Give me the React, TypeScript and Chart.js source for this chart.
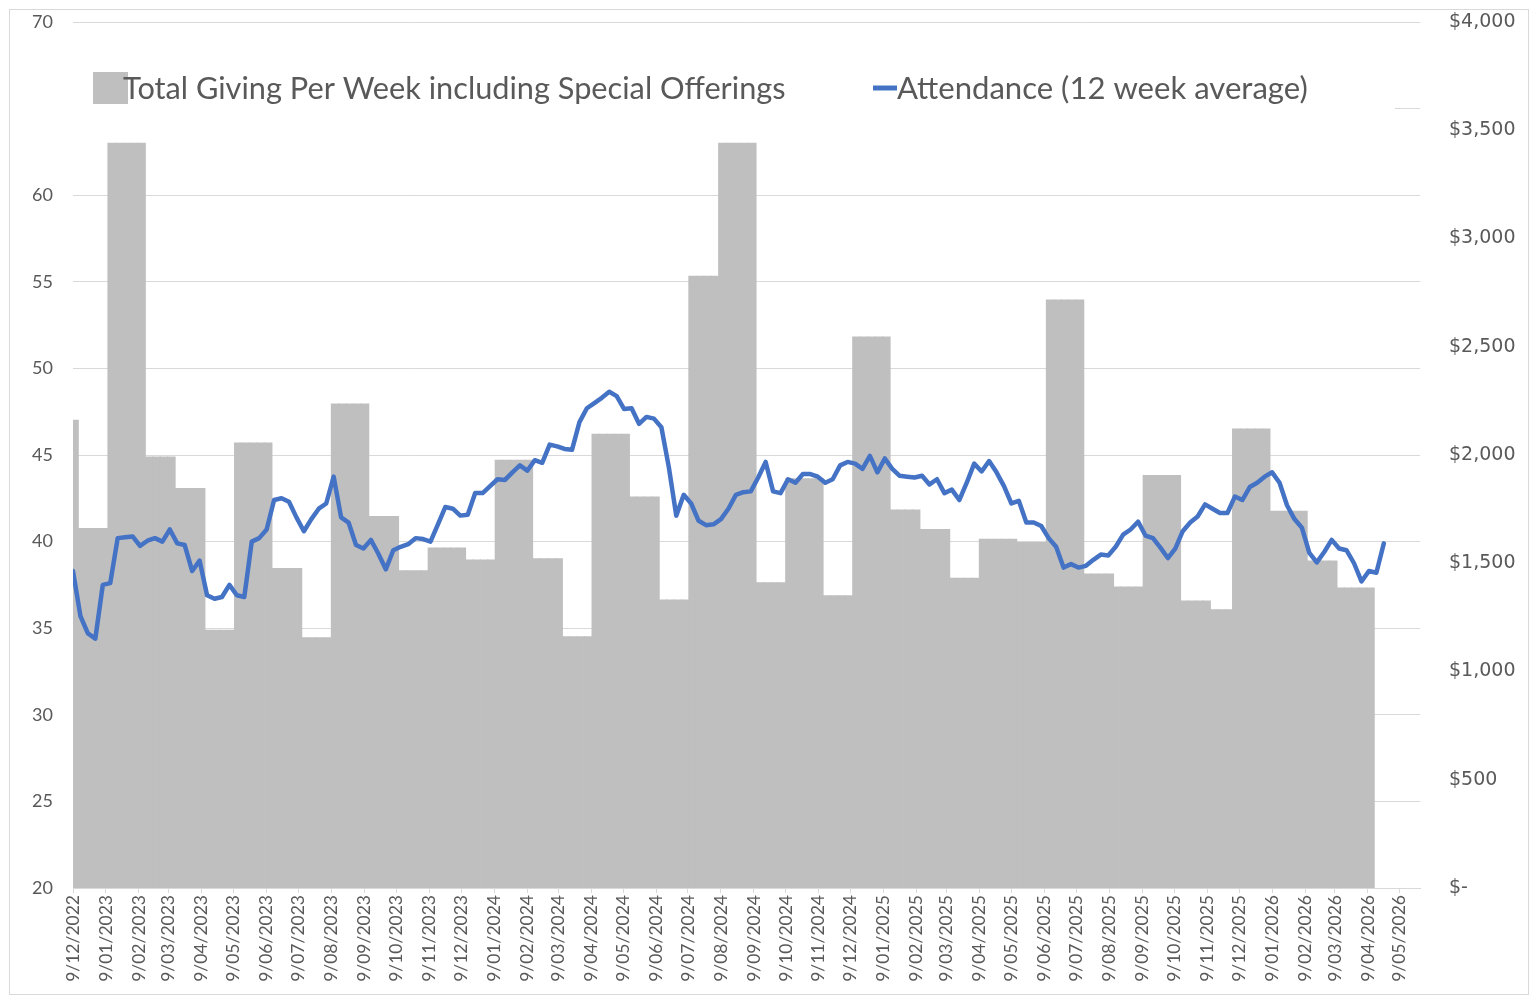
import React, { useEffect, useRef } from 'react';
import { Chart, registerables } from 'chart.js';

Chart.register(...registerables);

// ---- data ----
const tickLabels = [
  '9/12/2022',
  '9/01/2023', '9/02/2023', '9/03/2023', '9/04/2023', '9/05/2023', '9/06/2023',
  '9/07/2023', '9/08/2023', '9/09/2023', '9/10/2023', '9/11/2023', '9/12/2023',
  '9/01/2024', '9/02/2024', '9/03/2024', '9/04/2024', '9/05/2024', '9/06/2024',
  '9/07/2024', '9/08/2024', '9/09/2024', '9/10/2024', '9/11/2024', '9/12/2024',
  '9/01/2025', '9/02/2025', '9/03/2025', '9/04/2025', '9/05/2025', '9/06/2025',
  '9/07/2025', '9/08/2025', '9/09/2025', '9/10/2025', '9/11/2025', '9/12/2025',
  '9/01/2026', '9/02/2026', '9/03/2026', '9/04/2026', '9/05/2026',
];

// Attendance (12 week average), one value per week starting 9/12/2022
const attendance = [
  38.3, 35.7, 34.7, 34.4, 37.5, 37.6, 40.2, 40.25, 40.3, 39.75,
  40.05, 40.2, 40.0, 40.7, 39.9, 39.8, 38.3, 38.9, 36.9, 36.7,
  36.8, 37.5, 36.9, 36.8, 40.0, 40.2, 40.7, 42.4, 42.5, 42.3,
  41.4, 40.6, 41.3, 41.9, 42.2, 43.75, 41.4, 41.1, 39.8, 39.6,
  40.1, 39.3, 38.4, 39.5, 39.7, 39.85, 40.2, 40.15, 40.0, 41.0,
  42.0, 41.9, 41.5, 41.55, 42.8, 42.8, 43.2, 43.6, 43.56, 44.0,
  44.4, 44.1, 44.7, 44.55, 45.6, 45.5, 45.35, 45.3, 46.9, 47.7,
  48.0, 48.3, 48.65, 48.4, 47.65, 47.7, 46.8, 47.2, 47.1, 46.6,
  44.3, 41.5, 42.7, 42.2, 41.2, 40.95, 41.0, 41.3, 41.9, 42.7,
  42.85, 42.9, 43.7, 44.6, 42.9, 42.8, 43.6, 43.4, 43.9, 43.9,
  43.75, 43.4, 43.6, 44.4, 44.6, 44.5, 44.2, 44.95, 44.0, 44.8,
  44.2, 43.8, 43.75, 43.7, 43.8, 43.3, 43.6, 42.8, 43.0, 42.4,
  43.4, 44.5, 44.05, 44.65, 44.0, 43.2, 42.2, 42.35, 41.1, 41.1,
  40.9, 40.2, 39.7, 38.5, 38.7, 38.5, 38.6, 38.95, 39.25, 39.2,
  39.7, 40.4, 40.7, 41.15, 40.35, 40.2, 39.65, 39.05, 39.6, 40.6,
  41.1, 41.45, 42.15, 41.9, 41.65, 41.65, 42.6, 42.4, 43.15, 43.4,
  43.75, 44.0, 43.4, 42.1, 41.3, 40.8, 39.35, 38.8, 39.4, 40.1,
  39.6, 39.5, 38.75, 37.7, 38.3, 38.2, 39.9,
];

// Total giving per week ($), one value per period, and how many weeks each period covers
const givingValues = [
  2160, 1660, 3440, 1990, 1845, 1190, 2055, 1475, 1155, 2235,
  1715, 1465, 1570, 1515, 1975, 1520, 1160, 2095, 1805, 1330,
  2825, 3440, 1410, 1890, 1350, 2545, 1745, 1655, 1430, 1610,
  1595, 2715, 1450, 1390, 1905, 1325, 1285, 2120, 1740, 1510,
  1385,
];
const givingWeeks = [
  1, 4, 5, 4, 4, 4, 5, 4, 4, 5,
  4, 4, 5, 4, 5, 4, 4, 5, 4, 4,
  4, 5, 4, 5, 4, 5, 4, 4, 4, 5,
  4, 5, 4, 4, 5, 4, 3, 5, 5, 4,
  5,
];

// ---- derived tables for the library ----
const DAY_MS = 86400000;
const START = Date.UTC(2022, 11, 9);
const labelToDay = (l: string) => {
  const [d, m, y] = l.split('/').map(Number);
  return Math.round((Date.UTC(y, m - 1, d) - START) / DAY_MS);
};
const tickDays = tickLabels.map(labelToDay);
const AXIS_MAX_DAY = 1266;
const BAR_SHIFT_DAYS = 1.4;

const attendancePoints = attendance.map((v, i) => ({ x: i * 7, y: v }));
const givingPoints: { x: number; y: number }[] = [];
{
  let week = 0;
  givingValues.forEach((v, i) => {
    for (let k = 0; k < givingWeeks[i]; k++) {
      givingPoints.push({ x: week * 7 + BAR_SHIFT_DAYS, y: v });
      week++;
    }
  });
}

const TEXT = '#595959';
const GRID = '#D9D9D9';
const BAR = '#BFBFBF';
const BLUE = '#4472C4';

const LEGEND_BAR = 'Total Giving Per Week including Special Offerings';
const LEGEND_LINE = 'Attendance (12 week average)';

function fitFont(ctx: CanvasRenderingContext2D, text: string, width: number, family: string) {
  ctx.font = `100px ${family}`;
  const w = ctx.measureText(text).width;
  return (100 * width) / w;
}

const decorPlugin = {
  id: 'decor',
  afterDraw(chart: any) {
    const ctx: CanvasRenderingContext2D = chart.ctx;
    ctx.save();
    // legend background box (covers the grid line behind it)
    ctx.fillStyle = '#FFFFFF';
    ctx.fillRect(25, 66, 1370, 48);
    // bar legend swatch
    ctx.fillStyle = BAR;
    ctx.fillRect(93, 72, 35, 32);
    ctx.fillStyle = TEXT;
    ctx.textAlign = 'left';
    ctx.textBaseline = 'alphabetic';
    const fam = 'Lato, "Noto Sans", sans-serif';
    let size = fitFont(ctx, LEGEND_BAR, 663, fam);
    ctx.font = `${size}px ${fam}`;
    ctx.fillText(LEGEND_BAR, 123, 98.5);
    // line legend swatch
    ctx.strokeStyle = BLUE;
    ctx.lineWidth = 5;
    ctx.lineCap = 'butt';
    ctx.beginPath();
    ctx.moveTo(873, 88);
    ctx.lineTo(897, 88);
    ctx.stroke();
    size = fitFont(ctx, LEGEND_LINE, 411, fam);
    ctx.font = `${size}px ${fam}`;
    ctx.fillText(LEGEND_LINE, 897, 98.5);
    // outer frame
    ctx.strokeStyle = GRID;
    ctx.lineWidth = 1;
    ctx.strokeRect(9.5, 9.5, 1519, 985);
    ctx.restore();
  },
};

export default function App() {
  const canvasRef = useRef<HTMLCanvasElement | null>(null);

  useEffect(() => {
    document.body.style.margin = '0';
    const canvas = canvasRef.current;
    if (!canvas) return;
    const chart = new Chart(canvas, {
      type: 'bar',
      data: {
        datasets: [
          {
            type: 'line',
            label: LEGEND_LINE,
            data: attendancePoints,
            yAxisID: 'y',
            borderColor: BLUE,
            backgroundColor: BLUE,
            borderWidth: 4.5,
            pointRadius: 0,
            tension: 0,
            borderJoinStyle: 'round',
            borderCapStyle: 'round',
            order: 0,
          } as any,
          {
            type: 'bar',
            label: LEGEND_BAR,
            data: givingPoints,
            yAxisID: 'y1',
            backgroundColor: BAR,
            borderWidth: 0,
            barPercentage: 1,
            categoryPercentage: 1,
            inflateAmount: 0.6,
            order: 1,
          } as any,
        ],
      },
      options: {
        animation: false,
        responsive: false,
        maintainAspectRatio: false,
        layout: { padding: { top: 22, left: 0, right: 0, bottom: 0 } },
        plugins: {
          legend: { display: false },
          tooltip: { enabled: false },
          title: { display: false },
        },
        scales: {
          x: {
            type: 'linear',
            min: 0,
            max: AXIS_MAX_DAY,
            offset: false,
            afterBuildTicks: (scale: any) => {
              scale.ticks = tickDays.map((v) => ({ value: v }));
            },
            afterFit: (scale: any) => {
              scale.height = 109;
            },
            ticks: {
              autoSkip: false,
              minRotation: 90,
              maxRotation: 90,
              padding: 2,
              color: TEXT,
              font: { family: 'Lato', size: 17.5 },
              callback: (value: any) => {
                const i = tickDays.indexOf(Number(value));
                return i >= 0 ? tickLabels[i] : '';
              },
            },
            grid: {
              offset: false,
              drawOnChartArea: false,
              drawTicks: true,
              tickLength: 5,
              color: GRID,
            },
            border: { display: true, color: GRID },
          } as any,
          y: {
            position: 'left',
            min: 20,
            max: 70,
            afterFit: (scale: any) => {
              scale.width = 73;
              scale.paddingTop = 10;
              scale.paddingBottom = 10;
            },
            ticks: {
              stepSize: 5,
              padding: 20,
              color: TEXT,
              font: { family: 'Lato', size: 18 },
            },
            grid: { color: GRID, drawTicks: false },
            border: { display: false },
          } as any,
          y1: {
            position: 'right',
            min: 0,
            max: 4000,
            afterFit: (scale: any) => {
              scale.width = 113;
              scale.paddingTop = 10;
              scale.paddingBottom = 10;
            },
            ticks: {
              stepSize: 500,
              padding: 29,
              color: TEXT,
              font: { family: '"DejaVu Sans"', size: 19 },
              callback: (value: any) =>
                Number(value) === 0 ? '$-' : '$' + Number(value).toLocaleString('en-US'),
            },
            grid: { display: false, drawTicks: false },
            border: { display: false },
          } as any,
        },
      },
      plugins: [decorPlugin],
    });
    return () => chart.destroy();
  }, []);

  return (
    <div style={{ width: 1533, height: 997 }}>
      <canvas ref={canvasRef} width={1533} height={997} style={{ display: 'block', width: 1533, height: 997 }} />
    </div>
  );
}
